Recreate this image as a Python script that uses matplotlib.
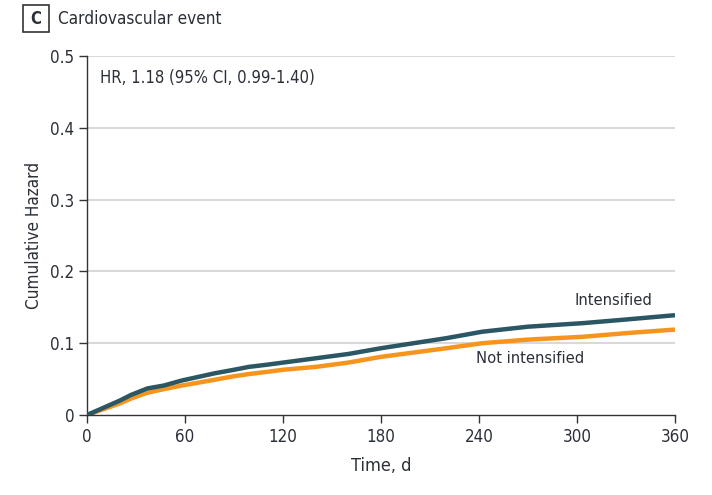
import matplotlib
matplotlib.use("Agg")
import matplotlib.pyplot as plt
from matplotlib.patches import Rectangle

plt.rcParams['font.family'] = ['DejaVu Sans']
plt.rcParams['font.stretch'] = 'condensed'

days = [0, 10, 20, 27, 37, 47, 58, 68, 78, 90, 99, 110, 120, 140, 160, 180, 200, 220, 242, 270, 304, 330, 360]
intensified = [0, 0.010, 0.020, 0.028, 0.037, 0.041, 0.048, 0.053, 0.058, 0.063, 0.067, 0.070, 0.073, 0.079, 0.085, 0.093, 0.100, 0.107, 0.116, 0.123, 0.128, 0.133, 0.139]
not_intensified = [0, 0.008, 0.016, 0.023, 0.031, 0.036, 0.041, 0.045, 0.049, 0.054, 0.057, 0.060, 0.063, 0.067, 0.073, 0.081, 0.087, 0.093, 0.100, 0.105, 0.109, 0.114, 0.119]

xticks = [0, 60, 120, 180, 240, 300, 360]
yticks = [0, 0.1, 0.2, 0.3, 0.4, 0.5]
ytick_labels = ['0', '0.1', '0.2', '0.3', '0.4', '0.5']

TXT = '#2a2f38'

fig = plt.figure(figsize=(7.12, 4.95), dpi=100)
ax = fig.add_axes([87/712, 1-415/495, (675-87)/712, (415-56)/495])

for y in yticks[1:]:
    ax.axhline(y, color='#d9d9d9', lw=1.5, zorder=0)

ax.plot(days, not_intensified, color='#f7941d', lw=3.2, solid_capstyle='butt', zorder=2)
ax.plot(days, intensified, color='#2b5663', lw=3.2, solid_capstyle='butt', zorder=3)

ax.set_xlim(0, 360)
ax.set_ylim(0, 0.5)
ax.set_xticks(xticks)
ax.set_yticks(yticks)
ax.set_yticklabels(ytick_labels)
ax.tick_params(axis='both', direction='out', length=6, width=1, color='#333333', labelsize=12.2, labelcolor=TXT, pad=3)
for s in ['top', 'right']:
    ax.spines[s].set_visible(False)
for s in ['left', 'bottom']:
    ax.spines[s].set_color('#333333')
    ax.spines[s].set_linewidth(1)

ax.set_xlabel('Time, d', fontsize=13, color=TXT, labelpad=8)
ax.set_ylabel('Cumulative Hazard', fontsize=12.3, color=TXT, labelpad=5)

ax.text(8, 0.47, 'HR, 1.18 (95% CI, 0.99-1.40)', fontsize=12, color=TXT, va='center', ha='left')
ax.text(346, 0.159, 'Intensified', fontsize=11.8, color=TXT, va='center', ha='right')
ax.text(271.5, 0.078, 'Not intensified', fontsize=11.8, color=TXT, va='center', ha='center')

fig.patches.append(Rectangle((23/712, 1-32/495), 26/712, 27/495, transform=fig.transFigure,
                             fill=False, edgecolor='#333333', lw=1.2))
fig.text(36/712, 1-18.5/495, 'C', fontsize=12, fontweight='bold', color=TXT, ha='center', va='center')
fig.text(58/712, 1-18.5/495, 'Cardiovascular event', fontsize=12.3, color=TXT, ha='left', va='center')

fig.savefig('out.png', dpi=100)
